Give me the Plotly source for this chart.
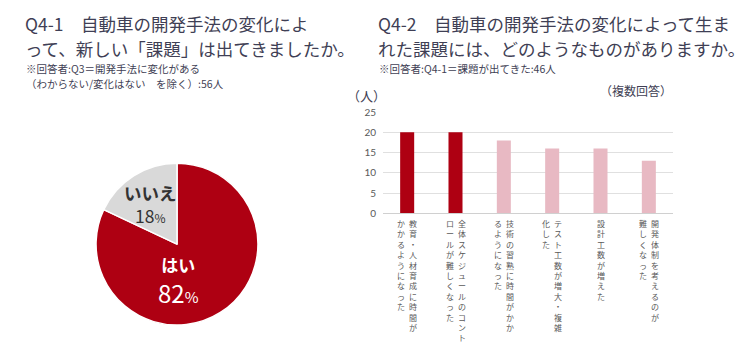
import plotly.graph_objects as go

# ---- data ----
pie_labels = ["はい", "いいえ"]
pie_values = [82, 18]

bar_categories = [
    "教育・人材育成に時間がかかるようになった",
    "全体スケジュールのコントロールが難しくなった",
    "技術の習熟に時間がかかるようになった",
    "テスト工数が増大・複雑化した",
    "設計工数が増えた",
    "開発体制を考えるのが難しくなった",
]
# label columns as written vertically (right column first)
bar_label_columns = [
    ["教育・人材育成に時間が", "かかるようになった"],
    ["全体スケジュールのコント", "ロールが難しくなった"],
    ["技術の習熟に時間がかか", "るようになった"],
    ["テスト工数が増大・複雑", "化した"],
    ["設計工数が増えた"],
    ["開発体制を考えるのが", "難しくなった"],
]
bar_values = [20, 20, 18, 16, 16, 13]
y_ticks = [0, 5, 10, 15, 20, 25]

FONT = "Noto Sans CJK JP"
TITLE_C = "#3f3f55"
DARK_RED = "#ae0012"
PINK = "#e8b9c3"
W, H = 756, 360

bar_colors = [DARK_RED, DARK_RED, PINK, PINK, PINK, PINK]

fig = go.Figure()

fig.add_trace(go.Pie(
    labels=pie_labels, values=pie_values, sort=False, direction="clockwise",
    rotation=0, marker=dict(colors=[DARK_RED, "#d9d9d9"], line=dict(color="white", width=1.5)),
    textinfo="none", hoverinfo="label+percent", showlegend=False,
    domain=dict(x=[93 / W, 261 / W], y=[30 / H, 198 / H]),
))

fig.add_trace(go.Bar(
    x=bar_categories, y=bar_values, marker=dict(color=bar_colors, line=dict(width=0)),
    showlegend=False, xaxis="x", yaxis="y",
))

fig.update_layout(
    width=W, height=H, margin=dict(l=0, r=0, t=0, b=0),
    paper_bgcolor="white", plot_bgcolor="white",
    font=dict(family=FONT, color="#595959"),
    bargap=0.71,
    xaxis=dict(domain=[383 / W, 673 / W], showticklabels=False, showgrid=False,
               showline=True, linecolor="#d0d0d0", linewidth=1, zeroline=False,
               fixedrange=True),
    yaxis=dict(domain=[146 / H, 251 / H], range=[0, 25], tickvals=y_ticks,
               showgrid=True, gridcolor="#e0e0e0", gridwidth=1, zeroline=False,
               showline=False, tickfont=dict(size=10, color="#595959", family="Lato"),
               ticklabelstandoff=6, fixedrange=True),
)

ann = []
def txt(x, y, s, size, color=TITLE_C, xanchor="left", yanchor="middle", align="left"):
    ann.append(dict(x=x / W, y=1 - y / H, xref="paper", yref="paper", text=s,
                    showarrow=False, xanchor=xanchor, yanchor=yanchor, align=align,
                    font=dict(size=size, color=color, family=FONT)))

# left titles
txt(23, 17, "Q4-1　自動車の開発手法の変化によ", 17.5)
txt(23, 43, "って、新しい「課題」は出てきましたか。", 17.5)
txt(24, 64, "※回答者:Q3＝開発手法に変化がある", 10.5)
txt(24, 79.5, "（わからない/変化はない　を除く）:56人", 10.5)
# right titles
txt(376, 17, "Q4-2　自動車の開発手法の変化によって生ま", 17.5)
txt(376, 43, "れた課題には、どのようなものがありますか。", 17.5)
txt(377, 64, "※回答者:Q4-1＝課題が出てきた:46人", 10.5)
txt(366, 92, "（人）", 13, color="#3f3f55", xanchor="center")
txt(674, 87, "（複数回答）", 12, color="#3f3f55", xanchor="right")

# pie labels
txt(150, 204, "<b>いいえ</b><br>18<span style='font-size:12px'>%</span>", 17.5,
    color="#333333", xanchor="center", align="center")
txt(178, 284, "<span style='font-size:17px'><b>はい</b></span><br>82<span style='font-size:15px'>%</span>",
    24, color="white", xanchor="center", align="center")

# vertical category labels: one text per column, one character per line
for cat, cols in zip(bar_categories, bar_label_columns):
    n = len(cols)
    for j, col in enumerate(cols):
        ann.append(dict(
            x=cat, y=0, xref="x", yref="y", text="<br>".join(col), showarrow=False,
            xanchor="center", yanchor="top", align="center",
            xshift=((n - 1) / 2 - j) * 12, yshift=-3,
            font=dict(size=8, color="#595959", family=FONT)))

fig.update_layout(annotations=ann)
fig.write_html("out.html", config={"displayModeBar": False},
               post_script="document.body.style.margin='0';document.body.style.padding='0';")
